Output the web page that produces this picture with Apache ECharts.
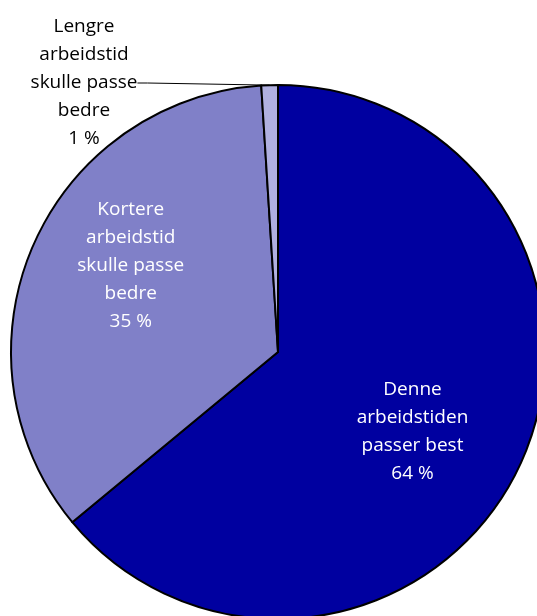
<!DOCTYPE html>
<html>
<head>
<meta charset="utf-8">
<script src="https://cdn.jsdelivr.net/npm/echarts@6/dist/echarts.min.js"></script>
<style>
  html, body { margin: 0; padding: 0; background: #fff; }
  #chart { width: 537px; height: 616px; }
</style>
</head>
<body>
<div id="chart"></div>
<script>
// kategorier og andeler (prosent)
const categories = [
  'Denne\narbeidstiden\npasser best',
  'Kortere\narbeidstid\nskulle passe\nbedre',
  'Lengre\narbeidstid\nskulle passe\nbedre'
];
const values = [64, 35, 1];
const colors = ['#0000A0', '#8080C8', '#B0B0E0'];

const chart = echarts.init(document.getElementById('chart'));

// etikettplassering per sektor
const labelStyles = [
  { position: 'inside', offset: [11, 21], color: '#fff' },
  { position: 'inside', offset: [-22, -32], color: '#fff' },
  { position: 'outside', color: '#000' }
];

const seriesData = categories.map((name, i) => ({
  name: name,
  value: values[i],
  itemStyle: { color: colors[i] },
  label: labelStyles[i],
  labelLine: { show: i === 2 }
}));

chart.setOption({
  animation: false,
  series: [{
    type: 'pie',
    center: [278, 352],
    radius: 267,
    startAngle: 90,
    clockwise: true,
    itemStyle: { borderColor: '#000', borderWidth: 2 },
    label: {
      formatter: p => p.name + '\n' + p.value + ' %',
      fontFamily: 'Open Sans',
      fontSize: 19,
      lineHeight: 28,
      align: 'center'
    },
    labelLine: {
      lineStyle: { color: '#000', width: 1 },
      length: 10,
      length2: 10
    },
    labelLayout: function (params) {
      if (params.dataIndex === 2) {
        return { x: 84, y: 83, align: 'center', verticalAlign: 'middle' };
      }
    },
    emphasis: { disabled: true },
    data: seriesData
  }]
});
</script>
</body>
</html>
